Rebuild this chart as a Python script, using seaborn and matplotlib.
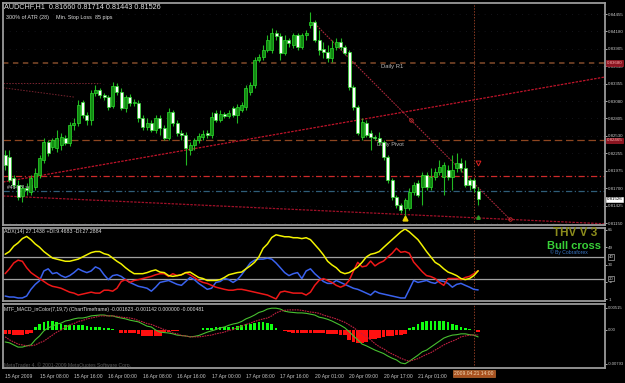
import numpy as np
import pandas as pd
import matplotlib
matplotlib.use("Agg")
import matplotlib.pyplot as plt
import matplotlib.transforms as mtrans
import seaborn as sns

# ---------------- data ----------------
opens = [0.8223, 0.8220, 0.8186, 0.8175, 0.8158, 0.8171, 0.8164, 0.8172, 0.8191, 0.8215,
         0.8243, 0.8235, 0.8234, 0.8238, 0.8250, 0.8242, 0.8270, 0.8273, 0.8306, 0.8286,
         0.8278, 0.8321, 0.8325, 0.8317, 0.8314, 0.8300, 0.8332, 0.8322, 0.8297, 0.8314,
         0.8305, 0.8305, 0.8281, 0.8267, 0.8273, 0.8262, 0.8281, 0.8265, 0.8250, 0.8291,
         0.8273, 0.8258, 0.8254, 0.8231, 0.8238, 0.8246, 0.8251, 0.8258, 0.8254, 0.8289,
         0.8278, 0.8288, 0.8284, 0.8297, 0.8286, 0.8294, 0.8299, 0.8322, 0.8333, 0.8373,
         0.8378, 0.8388, 0.8388, 0.8415, 0.8410, 0.8384, 0.8404, 0.8396, 0.8412, 0.8393,
         0.8412, 0.8428, 0.8433, 0.8404, 0.8390, 0.8385, 0.8376, 0.8393, 0.8401, 0.8393,
         0.8385, 0.8330, 0.8299, 0.8251, 0.8273, 0.8258, 0.8251, 0.8250, 0.8243, 0.8220,
         0.8183, 0.8156, 0.8144, 0.8139, 0.8139, 0.8164, 0.8179, 0.8172, 0.8191, 0.8172,
         0.8188, 0.8196, 0.8188, 0.8199, 0.8188, 0.8202, 0.8210, 0.8202, 0.8183, 0.8183,
         0.81660]
highs = [0.8231, 0.8231, 0.8191, 0.8183, 0.8175, 0.8179, 0.8191, 0.8202, 0.8223, 0.8250,
         0.8246, 0.8250, 0.8262, 0.8258, 0.8254, 0.8275, 0.8281, 0.8310, 0.8310, 0.8291,
         0.8325, 0.8333, 0.8329, 0.8321, 0.8317, 0.8338, 0.8337, 0.8329, 0.8317, 0.8319,
         0.8311, 0.8310, 0.8286, 0.8281, 0.8278, 0.8286, 0.8286, 0.8270, 0.8297, 0.8294,
         0.8278, 0.8262, 0.8259, 0.8243, 0.8250, 0.8258, 0.8262, 0.8262, 0.8291, 0.8294,
         0.8294, 0.8291, 0.8294, 0.8300, 0.8303, 0.8306, 0.8333, 0.8338, 0.8378, 0.8382,
         0.8396, 0.8412, 0.8423, 0.8420, 0.8415, 0.8412, 0.8408, 0.8415, 0.8415, 0.8415,
         0.8420, 0.8449, 0.8436, 0.8420, 0.8401, 0.8396, 0.8404, 0.8408, 0.8408, 0.8396,
         0.8388, 0.8333, 0.8302, 0.8281, 0.8278, 0.8262, 0.8254, 0.8259, 0.8246, 0.8223,
         0.8186, 0.8160, 0.8147, 0.8155, 0.8171, 0.8180, 0.8183, 0.8196, 0.8196, 0.8202,
         0.8202, 0.8215, 0.8212, 0.8207, 0.8223, 0.8226, 0.8218, 0.8215, 0.8186, 0.8186,
         0.81714]
lows = [0.8199, 0.8180, 0.8171, 0.8152, 0.8148, 0.8160, 0.8160, 0.8167, 0.8186, 0.8210,
        0.8221, 0.8231, 0.8227, 0.8231, 0.8238, 0.8237, 0.8262, 0.8269, 0.8281, 0.8270,
        0.8270, 0.8316, 0.8313, 0.8310, 0.8294, 0.8297, 0.8317, 0.8294, 0.8291, 0.8300,
        0.8300, 0.8275, 0.8262, 0.8262, 0.8259, 0.8258, 0.8254, 0.8246, 0.8246, 0.8269,
        0.8253, 0.8246, 0.8207, 0.8223, 0.8231, 0.8242, 0.8246, 0.8250, 0.8250, 0.8275,
        0.8275, 0.8281, 0.8281, 0.8283, 0.8273, 0.8291, 0.8294, 0.8317, 0.8329, 0.8370,
        0.8373, 0.8385, 0.8384, 0.8404, 0.8373, 0.8381, 0.8393, 0.8392, 0.8388, 0.8390,
        0.8404, 0.8423, 0.8401, 0.8381, 0.8376, 0.8370, 0.8370, 0.8388, 0.8388, 0.8381,
        0.8325, 0.8294, 0.8254, 0.8246, 0.8251, 0.8231, 0.8246, 0.8238, 0.8215, 0.8179,
        0.8152, 0.8139, 0.8131, 0.8125, 0.8136, 0.8160, 0.8156, 0.8144, 0.8167, 0.8167,
        0.8183, 0.8191, 0.8160, 0.8183, 0.8167, 0.8196, 0.8196, 0.8172, 0.8167, 0.8164,
        0.81443]
closes = [0.8207, 0.8183, 0.8175, 0.8156, 0.8171, 0.8167, 0.8186, 0.8194, 0.8218, 0.8243,
          0.8226, 0.8246, 0.8250, 0.8251, 0.8242, 0.8270, 0.8273, 0.8302, 0.8286, 0.8278,
          0.8321, 0.8325, 0.8317, 0.8314, 0.8299, 0.8332, 0.8322, 0.8297, 0.8314, 0.8305,
          0.8306, 0.8281, 0.8267, 0.8273, 0.8262, 0.8281, 0.8265, 0.8250, 0.8291, 0.8273,
          0.8258, 0.8254, 0.8234, 0.8238, 0.8246, 0.8253, 0.8256, 0.8254, 0.8283, 0.8278,
          0.8288, 0.8284, 0.8289, 0.8286, 0.8299, 0.8302, 0.8329, 0.8333, 0.8373, 0.8378,
          0.8388, 0.8404, 0.8415, 0.8411, 0.8384, 0.8404, 0.8400, 0.8412, 0.8393, 0.8412,
          0.8415, 0.8433, 0.8404, 0.8388, 0.8385, 0.8376, 0.8392, 0.8401, 0.8393, 0.8384,
          0.8330, 0.8299, 0.8258, 0.8275, 0.8254, 0.8251, 0.8250, 0.8243, 0.8220, 0.8183,
          0.8156, 0.8144, 0.8136, 0.8152, 0.8164, 0.8175, 0.8160, 0.8191, 0.8172, 0.8188,
          0.8196, 0.8204, 0.8207, 0.8188, 0.8199, 0.8210, 0.8202, 0.8175, 0.8175, 0.8171,
          0.81526]

adx_line = [42.5, 45, 50, 53, 57, 59, 56, 52, 49, 45,
            42, 39, 38, 37, 36, 36, 37, 38, 40, 42,
            44, 45, 45, 43, 42, 39, 36, 33.5, 30, 27,
            24.5, 24.5, 24.5, 25.5, 27, 28, 26, 25.5, 22.7, 22,
            22.7, 23.5, 25.5, 26, 23.5, 21, 20, 18.2, 18.2, 18.2,
            19, 21, 23.5, 24.5, 25.5, 26, 29, 31.7, 35, 40,
            48, 52, 58, 60.5, 59.6, 58.7, 58.7, 57.8, 57.8, 57,
            57.8, 56, 51.5, 47, 42, 36, 32.6, 30, 26, 24.5,
            25.5, 28, 30.8, 35, 40, 42.5, 43.4, 45, 48.8, 52.4,
            56, 59.6, 63.2, 65.9, 63.2, 59.6, 56, 50.6, 45, 40,
            35, 32.6, 29, 26, 24.5, 22.7, 20, 19, 20, 22.7,
            27.14]
plus_di = [3.8, 2.9, 2.9, 2, 2, 3.8, 10, 14.6, 18, 27,
           29, 24.5, 25.5, 22.7, 21, 22.7, 25.5, 29, 27, 25.5,
           27, 30.8, 29, 23.5, 19, 22.7, 23.5, 22, 19, 16.4,
           14.6, 12.8, 12, 11, 8.3, 12, 16.4, 17.3, 18.2, 16.4,
           14.6, 13.7, 17.3, 21, 19, 15.5, 12.8, 10, 11, 16.4,
           17.3, 20, 19, 16.4, 19, 23.5, 29, 34.4, 37, 38,
           38, 38.9, 38, 34.4, 30, 25.5, 22.7, 24.5, 25.5, 20,
           27, 29, 24.5, 21, 17.3, 15.5, 15.5, 18.2, 16.4, 14.6,
           12.8, 11, 10, 8.3, 6.5, 4.7, 8.3, 6.5, 5.6, 4.7,
           3.8, 2.9, 2, 2, 10, 18.2, 16.4, 17.3, 18.2, 16.4,
           15.5, 18.2, 17.3, 15.5, 12, 14.6, 15.5, 13.7, 12, 10,
           9.47]
minus_di = [24.5, 29, 34.4, 37, 36, 30, 25.5, 22.7, 20, 17.3,
            14.6, 12.8, 12, 11, 9.2, 7.4, 6.5, 4.7, 5.6, 6.5,
            7.4, 6.5, 6.5, 9.2, 9.2, 8.3, 11, 17.3, 19, 16.4,
            18.2, 19, 20, 21, 22, 23.5, 24.5, 24.5, 22, 24.5,
            22.7, 23.5, 25.5, 23.5, 21, 18.2, 16.4, 15.5, 13.7, 12,
            11, 10, 9.2, 9.2, 10, 10, 9.2, 8.3, 7.4, 6.5,
            5.6, 4.7, 2.9, 1.1, 7.4, 8.3, 7.4, 6.5, 6.5, 6.5,
            4.7, 7.4, 13.7, 18.2, 20, 18.2, 16.4, 13.7, 12, 13.7,
            18.2, 27, 35, 30.8, 31.7, 36.2, 31.7, 34.4, 36.2, 40,
            43.4, 48, 44.3, 45, 43.4, 35.3, 30.8, 26.3, 22.7, 21.8,
            20, 16.4, 13.7, 20, 20, 20, 19, 21, 22, 24.5,
            27.29]

macd_line = [-0.0028, -0.0030, -0.0035, -0.0040, -0.0040, -0.0037, -0.0035, -0.0023, -0.0014, -0.0002,
             0.0005, 0.0009, 0.0014, 0.0016, 0.0021, 0.0023, 0.0026, 0.0028, 0.0028, 0.0030,
             0.0033, 0.0034, 0.0035, 0.0035, 0.0033, 0.0033, 0.0030, 0.0028, 0.0026, 0.0023,
             0.0021, 0.0019, 0.0014, 0.0009, 0.0007, 0.0000, -0.0005, -0.0006, -0.0007, -0.0009,
             -0.0012, -0.0013, -0.0014, -0.0016, -0.0015, -0.0013, -0.0009, -0.0005, -0.0002, 0.0001,
             0.0005, 0.0007, 0.0011, 0.0014, 0.0016, 0.0020, 0.0026, 0.0030, 0.0035, 0.0041,
             0.0044, 0.0049, 0.0051, 0.0051, 0.0049, 0.0044, 0.0042, 0.0041, 0.0040, 0.0040,
             0.0039, 0.0037, 0.0035, 0.0030, 0.0028, 0.0025, 0.0021, 0.0016, 0.0011, 0.0005,
             -0.0004, -0.0014, -0.0023, -0.0033, -0.0037, -0.0042, -0.0047, -0.0051, -0.0055, -0.0061,
             -0.0066, -0.0070, -0.0077, -0.0079, -0.0073, -0.0066, -0.0059, -0.0051, -0.0047, -0.0040,
             -0.0033, -0.0026, -0.0019, -0.0015, -0.0012, -0.0011, -0.0009, -0.0009, -0.0011, -0.0012,
             -0.001623]
signal_line = [-0.0016, -0.0023, -0.0028, -0.0033, -0.0035, -0.0037, -0.0037, -0.0035, -0.0030, -0.0026,
               -0.0019, -0.0012, -0.0005, 0.0000, 0.0006, 0.0012, 0.0015, 0.0020, 0.0022, 0.0026,
               0.0028, 0.0030, 0.0033, 0.0033, 0.0033, 0.0033, 0.0032, 0.0030, 0.0029, 0.0028,
               0.0026, 0.0022, 0.0019, 0.0015, 0.0013, 0.0009, 0.0005, 0.0001, -0.0002, -0.0007,
               -0.0009, -0.0013, -0.0014, -0.0016, -0.0016, -0.0016, -0.0015, -0.0013, -0.0012, -0.0009,
               -0.0007, -0.0005, -0.0001, 0.0001, 0.0005, 0.0009, 0.0013, 0.0016, 0.0020, 0.0023,
               0.0026, 0.0028, 0.0033, 0.0040, 0.0044, 0.0046, 0.0047, 0.0047, 0.0047, 0.0046,
               0.0044, 0.0042, 0.0041, 0.0039, 0.0035, 0.0032, 0.0029, 0.0026, 0.0022, 0.0018,
               0.0012, 0.0006, -0.0002, -0.0009, -0.0016, -0.0023, -0.0032, -0.0039, -0.0044, -0.0051,
               -0.0056, -0.0061, -0.0066, -0.0070, -0.0073, -0.0070, -0.0067, -0.0062, -0.0057, -0.0053,
               -0.0047, -0.0041, -0.0035, -0.0030, -0.0026, -0.0022, -0.0016, -0.0014, -0.0012, -0.0012,
               -0.001142]
macd_hist = [-0.0009, -0.0010, -0.0011, -0.0012, -0.0012, -0.0010, -0.0007, 0.0007, 0.0014, 0.0019,
             0.0021, 0.0021, 0.0018, 0.0015, 0.0012, 0.0012, 0.0012, 0.0011, 0.0011, 0.0010,
             0.0008, 0.0008, 0.0007, 0.0005, 0.0005, 0.0003, 0.0001, -0.0006, -0.0007, -0.0007,
             -0.0008, -0.0010, -0.0014, -0.0015, -0.0015, -0.0015, -0.0013, -0.0005, -0.0004, -0.0003,
             -0.0002, -0.0001, -0.0001, 0.0000, 0.0001, 0.0001, 0.0004, 0.0005, 0.0005, 0.0006,
             0.0007, 0.0007, 0.0008, 0.0008, 0.0009, 0.0011, 0.0013, 0.0014, 0.0017, 0.0019,
             0.0018, 0.0016, 0.0013, 0.0005, 0.0001, -0.0003, -0.0005, -0.0006, -0.0006, -0.0006,
             -0.0006, -0.0006, -0.0007, -0.0008, -0.0008, -0.0009, -0.0009, -0.0010, -0.0011, -0.0012,
             -0.0024, -0.0028, -0.0030, -0.0030, -0.0028, -0.0022, -0.0020, -0.0019, -0.0016, -0.0015,
             -0.0013, -0.0012, -0.0012, -0.0010, 0.0004, 0.0008, 0.0014, 0.0019, 0.0020, 0.0021,
             0.0021, 0.0021, 0.0020, 0.0019, 0.0014, 0.0011, 0.0008, 0.0004, 0.0002, 0.0000,
             -0.000481]

time_labels = ["15 Apr 2009", "15 Apr 08:00", "15 Apr 16:00", "16 Apr 00:00", "16 Apr 08:00",
               "16 Apr 16:00", "17 Apr 00:00", "17 Apr 08:00", "17 Apr 16:00", "20 Apr 01:00",
               "20 Apr 09:00", "20 Apr 17:00", "21 Apr 01:00"]
time_label_bars = [0, 8, 16, 24, 32, 40, 48, 56, 64, 72, 80, 88, 96]
cursor_bar = 109
cursor_label = "2009.04.21 14:00"

price_ticks = [0.84455, 0.84180, 0.83905, 0.83630, 0.83355, 0.83080, 0.82805,
               0.82530, 0.82255, 0.81975, 0.81700, 0.81425, 0.81150]
daily_r1 = 0.8368
daily_pivot = 0.8246
red_level = 0.8190
blue_level = 0.8166

rising_tl_x = [-0.5, 139.5]
rising_tl_y = [0.8180, 0.8346]
falling_tl_x = [71.6, 117.4]
falling_tl_y = [0.8433, 0.8121]
lower_tl_x = [-0.5, 139.5]
lower_tl_y = [0.8158, 0.8114]
old_tl1_x = [-0.5, 22]
old_tl1_y = [0.8337, 0.8337]
old_tl2_x = [-0.5, 16.3]
old_tl2_y = [0.8329, 0.8314]

adx_ticks = [65, 49, 33, 17, 1]
adx_levels = [40, 20]
macd_ticks = [0.00515, 0.0, -0.00793]
macd_tick_labels = ["0.00515", "0.00", "-0.00793"]

# ---------------- figure ----------------
sns.set_theme(style="dark")
plt.rcParams["font.family"] = ["Liberation Sans", "DejaVu Sans"]

W, H = 625, 383
fig = plt.figure(figsize=(W / 100, H / 100), dpi=100, facecolor="black")


def box(x0, y0, x1, y1):
    return [x0 / W, 1 - y1 / H, (x1 - x0) / W, (y1 - y0) / H]


ax_m = fig.add_axes(box(3, 3, 605, 225))
ax_a = fig.add_axes(box(3, 228, 605, 301))
ax_d = fig.add_axes(box(3, 304, 605, 368))

GRID = "#9a9a9a"
TXT = "#c8c8c8"
AXFS = 3.2
XMIN, XMAX = -0.5, 139.5

for ax in (ax_m, ax_a, ax_d):
    ax.set_facecolor("black")
    for s in ax.spines.values():
        s.set_color(GRID)
        s.set_linewidth(1.3)
    ax.set_xlim(XMIN, XMAX)
    ax.yaxis.tick_right()
    ax.tick_params(axis="y", colors=TXT, labelsize=AXFS, length=1.5, width=0.6, pad=0.8)
    ax.grid(False)
    ax.axvline(cursor_bar, color="#8a3a22", lw=0.7, ls=(0, (1.5, 1.5)))

ax_m.tick_params(axis="x", bottom=False, labelbottom=False)
ax_a.tick_params(axis="x", bottom=False, labelbottom=False)

idx = np.arange(len(closes))
o = np.array(opens)
h = np.array(highs)
lo = np.array(lows)
c = np.array(closes)

# ------------- main price panel -------------
ax_m.set_ylim(0.81121, 0.84629)
for lvl in price_ticks:
    ax_m.axhline(lvl, color="#262630", lw=0.5, ls=(0, (1, 8)))

sns.lineplot(x=old_tl1_x, y=old_tl1_y, ax=ax_m, color="#7a2430", lw=0.7, ls=(0, (1.5, 1.5)))
sns.lineplot(x=old_tl2_x, y=old_tl2_y, ax=ax_m, color="#7a2430", lw=0.7, ls=(0, (1.5, 1.5)))
ax_m.axhline(daily_r1, color="#6e4024", lw=1.3, ls=(0, (3, 2.5)))
ax_m.axhline(daily_pivot, color="#8e4620", lw=0.9, ls=(0, (6, 3)))
ax_m.axhline(red_level, color="#cc2a2a", lw=0.9, ls=(0, (5, 2, 1, 2)))
ax_m.axhline(blue_level, color="#2f5d78", lw=0.9, ls=(0, (5, 2, 1, 2)))
sns.lineplot(x=rising_tl_x, y=rising_tl_y, ax=ax_m, color="#c0142a", lw=0.9, ls=(0, (2, 1)))
sns.lineplot(x=lower_tl_x, y=lower_tl_y, ax=ax_m, color="#a01028", lw=0.9, ls=(0, (2, 1)))
sns.lineplot(x=falling_tl_x, y=falling_tl_y, ax=ax_m, color="#a8283a", lw=0.8, ls=(0, (1.5, 1)))
ax_m.plot([94.4, falling_tl_x[1]], [0.8278, falling_tl_y[1]], ls="none", marker="o", ms=2.5,
          mfc="none", mec="#e03030", mew=0.6)

# candles
up = c >= o
body_lo = np.minimum(o, c)
body_h = np.maximum(np.abs(c - o), 0.00006)
ax_m.vlines(idx, lo, h, color="#22b822", lw=0.8, zorder=3)
ax_m.bar(idx[up], body_h[up], bottom=body_lo[up], width=0.72, color="#128a12",
         edgecolor="#2cdc2c", linewidth=0.5, zorder=4)
ax_m.bar(idx[~up], body_h[~up], bottom=body_lo[~up], width=0.72, color="white",
         edgecolor="#2cdc2c", linewidth=0.5, zorder=4)

ax_m.plot([93], [0.8123], marker="^", ms=3.5, color="#e8d000", ls="none", zorder=5)
ax_m.plot([110], [0.8210], marker="v", ms=3.5, mfc="none", mec="#e02020", mew=0.7, ls="none", zorder=5)
ax_m.plot([110], [0.8125], marker="^", ms=2.5, color="#2aa02a", ls="none", zorder=5)

ax_m.set_yticks(price_ticks)
ax_m.set_yticklabels([f"{v:.5f}" for v in price_ticks])

tr_m = mtrans.blended_transform_factory(ax_m.transAxes, ax_m.transData)
box_kw = dict(boxstyle="square,pad=0.15", lw=0.4)
ax_m.text(1.003, daily_r1, "0.83680", transform=tr_m, fontsize=AXFS, color="#ffb0b0", va="center",
          ha="left", bbox=dict(fc="#8a1420", ec="#c02030", **box_kw), clip_on=False)
ax_m.text(1.003, daily_pivot, "0.82465", transform=tr_m, fontsize=AXFS, color="#ffb0b0", va="center",
          ha="left", bbox=dict(fc="#8a1420", ec="#c02030", **box_kw), clip_on=False)
ax_m.text(1.003, closes[-1], f"{closes[-1]:.5f}", transform=tr_m, fontsize=AXFS, color="black",
          va="center", ha="left", bbox=dict(fc="white", ec="white", **box_kw), clip_on=False)

ax_m.text(87.5, daily_r1 - 0.0002, "Daily R1", fontsize=4.2, color="#b8b8b8", va="top", ha="left")
ax_m.text(86.5, daily_pivot - 0.0002, "Daily Pivot", fontsize=4.1, color="#b8b8b8", va="top", ha="left")
ax_m.text(0.5, 0.8172, "#464 Bl sell", fontsize=3.6, color="#d0d0d0", va="center", ha="left")

fig.text(4 / W, 1 - 6.5 / H, "AUDCHF,H1  0.81660 0.81714 0.81443 0.81526", fontsize=5.2,
         color="#e0e0e0", va="center", ha="left")
fig.text(6 / W, 1 - 17.5 / H, "300% of ATR (28)", fontsize=3.9, color="#e0e0e0", va="center", ha="left")
fig.text(56 / W, 1 - 17.5 / H, "Min. Stop Loss", fontsize=3.9, color="#e0e0e0", va="center", ha="left")
fig.text(95 / W, 1 - 17.5 / H, "85 pips", fontsize=3.9, color="#e0e0e0", va="center", ha="left")

# ------------- ADX panel -------------
ax_a.set_ylim(-0.8, 66.8)
for lv in adx_levels:
    ax_a.axhline(lv, color="#a0a0a0", lw=0.9)
sns.lineplot(x=idx, y=plus_di, ax=ax_a, color="#3a62ee", lw=1.1)
sns.lineplot(x=idx, y=minus_di, ax=ax_a, color="#ee1818", lw=1.1)
sns.lineplot(x=idx, y=adx_line, ax=ax_a, color="#f2f200", lw=1.1)
ax_a.set_yticks(adx_ticks)
ax_a.set_yticklabels([str(v) for v in adx_ticks])
tr_a = mtrans.blended_transform_factory(ax_a.transAxes, ax_a.transData)
for lv in adx_levels:
    ax_a.text(1.006, lv, str(lv), transform=tr_a, fontsize=AXFS, color=TXT, va="center", ha="left",
              bbox=dict(fc="black", ec="#d0d0d0", **box_kw), clip_on=False)
ax_a.set_ylabel("")
fig.text(4 / W, 1 - 231 / H, "ADX(14) 27.1438 +DI:9.4683 -DI:27.2884", fontsize=3.75,
         color="#e0e0e0", va="center", ha="left")
fig.text(575 / W, 1 - 233 / H, "THV V 3", fontsize=8.5, fontweight="bold", color="#8c8c1c",
         va="center", ha="center")
fig.text(574 / W, 1 - 245.5 / H, "Bull cross", fontsize=8, fontweight="bold", color="#38d038",
         va="center", ha="center")
fig.text(569 / W, 1 - 252.5 / H, "\u00a9 By Cobraforex", fontsize=3.6, color="#3a78c8",
         va="center", ha="center")

# ------------- MACD panel -------------
ax_d.set_ylim(-0.00889, 0.00608)
hist = np.array(macd_hist)
pos = hist >= 0
ax_d.bar(idx[pos], hist[pos], width=0.62, color="#10ff10", lw=0, zorder=2)
ax_d.bar(idx[~pos], hist[~pos], width=0.9, color="#ff1010", lw=0, zorder=2)
sns.lineplot(x=idx, y=macd_line, ax=ax_d, color="#48c030", lw=0.8, zorder=3)
sns.lineplot(x=idx, y=signal_line, ax=ax_d, color="#c02040", lw=0.8, ls=(0, (1.5, 0.8)), zorder=3)
ax_d.set_yticks(macd_ticks)
ax_d.set_yticklabels(macd_tick_labels)
ax_d.tick_params(axis="y", labelsize=3.0)
ax_d.set_ylabel("")
ax_d.set_xticks(time_label_bars)
ax_d.set_xticklabels(time_labels, ha="left")
ax_d.tick_params(axis="x", colors=TXT, labelsize=3.6, length=2.5, width=0.6, pad=2, direction="out")
for lbl in ax_d.get_xticklabels():
    lbl.set_color(TXT)
tr_d = mtrans.blended_transform_factory(ax_d.transData, ax_d.transAxes)
ax_d.text(cursor_bar, -0.05, cursor_label, transform=tr_d, fontsize=3.6, color="#f4dcb8",
          va="top", ha="center", clip_on=False,
          bbox=dict(boxstyle="square,pad=0.25", fc="#a8501e", ec="#d07a3a", lw=0.4))
fig.text(4 / W, 1 - 309.5 / H,
         "MTF_MACD_inColor(7,19,7) (ChartTimeframe) -0.001623 -0.001142 0.000000 -0.000481",
         fontsize=3.6, color="#e0e0e0", va="center", ha="left")
fig.text(4 / W, 1 - 365 / H, "MetaTrader 4, \u00a9 2001-2009 MetaQuotes Software Corp.",
         fontsize=3.6, color="#5a5a5a", va="center", ha="left")

for ax in (ax_m, ax_a, ax_d):
    ax.set_xlabel("")
    ax.set_xlim(XMIN, XMAX)

fig.savefig("out.png", dpi=100, facecolor="black")
